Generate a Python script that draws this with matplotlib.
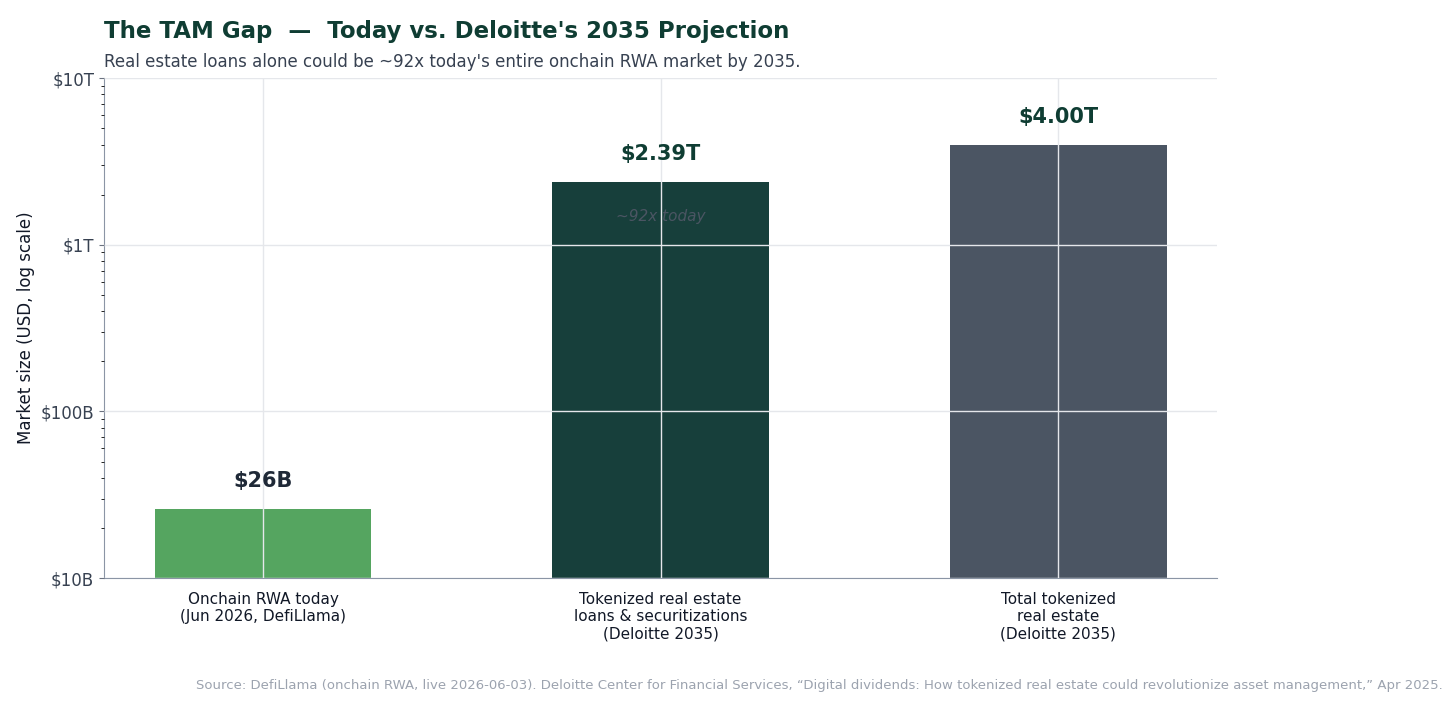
import matplotlib
matplotlib.use("Agg")
import matplotlib.pyplot as plt
from matplotlib.ticker import FixedLocator, LogLocator, NullFormatter

categories = ["Onchain RWA today\n(Jun 2026, DefiLlama)",
              "Tokenized real estate\nloans & securitizations\n(Deloitte 2035)",
              "Total tokenized\nreal estate\n(Deloitte 2035)"]
values = [26e9, 2.39e12, 4.00e12]
labels = ["$26B", "$2.39T", "$4.00T"]
colors = ["#55a560", "#173f3b", "#4b5563"]
label_colors = ["#1f2937", "#0f3d33", "#0f3d33"]
yticks = [1e10, 1e11, 1e12, 1e13]
ytick_labels = ["$10B", "$100B", "$1T", "$10T"]

fig = plt.figure(figsize=(14.56, 7.05), dpi=100)
ax = fig.add_axes([0.0714, 0.180, 0.7646, 0.709])
x = range(len(values))
ax.bar(x, values, width=0.545, color=colors, zorder=2)
ax.set_yscale("log")
ax.set_ylim(1e10, 1e13)
ax.set_xlim(-0.40, 2.40)
ax.yaxis.set_major_locator(FixedLocator(yticks))
ax.set_yticklabels(ytick_labels, fontsize=12, color="#374151")
ax.yaxis.set_minor_locator(LogLocator(base=10, subs=range(2, 10)))
ax.yaxis.set_minor_formatter(NullFormatter())
ax.set_xticks(list(x))
ax.set_xticklabels(categories, fontsize=11, color="#111827")
ax.tick_params(axis="x", length=0, pad=10)
ax.tick_params(axis="y", colors="#6b7280", labelcolor="#374151")
ax.grid(True, color="#e5e7eb", linewidth=1, zorder=3)
ax.set_axisbelow(False)
for s in ["top", "right"]:
    ax.spines[s].set_visible(False)
for s in ["left", "bottom"]:
    ax.spines[s].set_color("#8b95a5")
ax.set_ylabel("Market size (USD, log scale)", fontsize=12, color="#111827")

for i, (v, t, c) in enumerate(zip(values, labels, label_colors)):
    ax.annotate(t, (i, v), xytext=(0, 13), textcoords="offset points",
                ha="center", va="bottom", fontsize=15, fontweight="bold", color=c, zorder=5)
ax.text(1, values[1] * 0.62, "~92x today", ha="center", va="center",
        fontsize=11, style="italic", color="#4b5563", zorder=5)

fig.text(0.0714, 0.955, "The TAM Gap  —  Today vs. Deloitte's 2035 Projection",
         fontsize=16.5, fontweight="bold", color="#0f3d33", va="center")
fig.text(0.0714, 0.912, "Real estate loans alone could be ~92x today's entire onchain RWA market by 2035.",
         fontsize=12, color="#374151", va="center")
fig.text(0.991, 0.027, "Source: DefiLlama (onchain RWA, live 2026-06-03). Deloitte Center for Financial Services, “Digital dividends: How tokenized real estate could revolutionize asset management,” Apr 2025.",
         fontsize=9.5, color="#9ca3af", ha="right", va="center")
fig.savefig("out.png", dpi=100, facecolor="white")
